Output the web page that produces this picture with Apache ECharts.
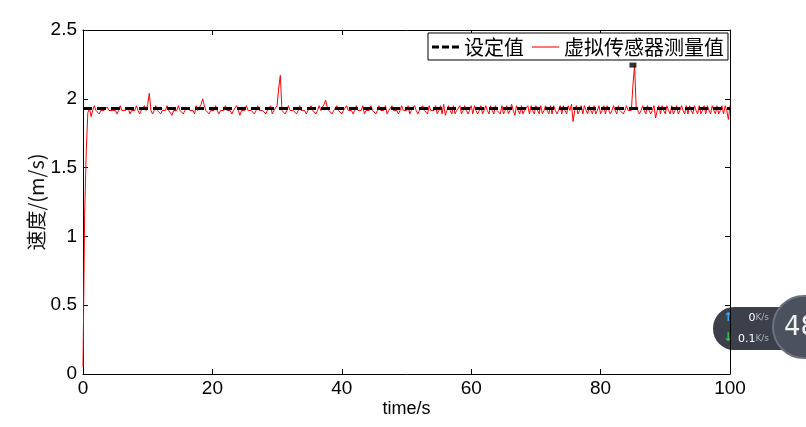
<!DOCTYPE html>
<html>
<head>
<meta charset="utf-8">
<script src="https://cdn.jsdelivr.net/npm/echarts@6/dist/echarts.min.js"></script>
<style>
html,body{margin:0;padding:0;background:#fff;}
#c{width:806px;height:427px;}
</style>
</head>
<body>
<div id="c"></div>
<script>
// ---- data ----
const xTicks = [0, 20, 40, 60, 80, 100];
const yTicks = [0, 0.5, 1, 1.5, 2, 2.5];
const seriesNames = ['设定值', '虚拟传感器测量值'];
const setTime = [0, 100];
const setValue = [1.93, 1.93];
const sampleStep = 0.25; // s
const measured = [
 0.05,1.15,1.62,1.90,1.93,1.87,1.915,1.95,1.915,1.915,1.89,1.915,1.915,1.915,1.915,1.94,1.915,1.915,1.915,1.915,
 1.915,1.89,1.915,1.95,1.915,1.915,1.915,1.915,1.93,1.89,1.915,1.915,1.915,1.95,1.915,1.89,1.915,1.915,1.95,1.915,
 1.96,2.04,1.915,1.89,1.915,1.95,1.915,1.915,1.89,1.915,1.915,1.915,1.95,1.915,1.915,1.88,1.915,1.915,1.915,1.95,
 1.915,1.915,1.89,1.915,1.915,1.94,1.915,1.915,1.915,1.89,1.95,1.915,1.915,1.96,2.00,1.95,1.915,1.915,1.89,1.915,
 1.915,1.915,1.95,1.915,1.89,1.915,1.915,1.915,1.95,1.915,1.915,1.915,1.89,1.915,1.915,1.95,1.915,1.88,1.915,1.915,
 1.915,1.95,1.915,1.915,1.915,1.915,1.89,1.915,1.95,1.915,1.915,1.915,1.915,1.89,1.915,1.915,1.95,1.89,1.915,1.915,
 1.95,2.08,2.17,1.915,1.915,1.89,1.915,1.95,1.915,1.915,1.915,1.915,1.89,1.915,1.95,1.915,1.915,1.915,1.89,1.915,
 1.915,1.95,1.915,1.915,1.89,1.915,1.95,1.915,1.915,1.96,1.99,1.94,1.915,1.915,1.89,1.915,1.915,1.95,1.915,1.915,
 1.89,1.915,1.915,1.95,1.915,1.915,1.915,1.89,1.915,1.95,1.915,1.915,1.915,1.95,1.89,1.915,1.915,1.915,1.95,1.915,
 1.915,1.89,1.915,1.95,1.915,1.915,1.915,1.95,1.89,1.915,1.915,1.95,1.915,1.915,1.915,1.89,1.915,1.95,1.915,1.915,
 1.915,1.95,1.89,1.915,1.915,1.95,1.915,1.89,1.915,1.915,1.95,1.915,1.915,1.89,1.95,1.915,1.915,1.915,1.95,1.89,
 1.915,1.95,1.89,1.96,1.88,1.915,1.95,1.915,1.89,1.95,1.89,1.915,1.915,1.95,1.89,1.915,1.95,1.915,1.89,1.915,
 1.95,1.89,1.95,1.915,1.89,1.915,1.95,1.89,1.915,1.95,1.915,1.89,1.95,1.915,1.89,1.95,1.915,1.915,1.89,1.95,
 1.89,1.915,1.95,1.89,1.915,1.96,1.915,1.88,1.95,1.915,1.89,1.95,1.89,1.915,1.915,1.95,1.89,1.95,1.915,1.89,
 1.95,1.915,1.89,1.95,1.89,1.915,1.95,1.915,1.89,1.95,1.89,1.95,1.915,1.89,1.915,1.95,1.89,1.95,1.915,1.89,
 1.95,1.915,1.96,1.835,1.915,1.95,1.89,1.915,1.95,1.89,1.95,1.915,1.89,1.95,1.915,1.89,1.95,1.89,1.915,1.95,
 1.89,1.915,1.95,1.89,1.95,1.915,1.89,1.915,1.95,1.915,1.89,1.95,1.915,1.915,1.89,1.915,1.95,1.915,1.915,1.915,
 2.10,2.24,1.94,1.915,1.89,1.915,1.95,1.915,1.89,1.95,1.915,1.89,1.915,1.95,1.86,1.915,1.95,1.89,1.95,1.915,
 1.89,1.95,1.915,1.89,1.95,1.89,1.915,1.95,1.89,1.915,1.95,1.915,1.89,1.95,1.89,1.95,1.915,1.89,1.95,1.915,
 1.89,1.95,1.89,1.915,1.95,1.89,1.95,1.915,1.89,1.95,1.915,1.89,1.95,1.89,1.915,1.95,1.89,1.95,1.915,1.85,
 1.95
];
const markerTime = [85.0];
const markerValue = [2.245];
// overlay widget texts
const upRate = '0';
const downRate = '0.1';
const rateUnit = 'K/s';
const badgeText = '48';

// ---- build ----
const measuredData = measured.map((v, i) => [i * sampleStep, v]);
const setData = setTime.map((t, i) => [t, setValue[i]]);
const markerData = markerTime.map((t, i) => [t, markerValue[i]]);

const latin = 'Liberation Sans, Arial, sans-serif';
const tickFont = { fontFamily: latin, fontSize: 19, color: '#000' };
const cjk = 'Noto Sans CJK SC';

const chart = echarts.init(document.getElementById('c'), null, { renderer: 'canvas' });
chart.setOption({
  animation: false,
  backgroundColor: '#fff',
  grid: { left: 83, right: 76, top: 30, bottom: 53, containLabel: false },
  legend: {
    data: [
      { name: seriesNames[0], icon: 'path://M0,0h7v3h-7z M10,0h7v3h-7z M20,0h7v3h-7z', itemStyle: { color: '#000' } },
      { name: seriesNames[1], icon: 'path://M0,0h25v1h-25z', itemStyle: { color: '#ff0000' } }
    ],
    left: 428, top: 33,
    padding: [4, 4, 3, 4],
    itemGap: 8,
    itemWidth: 27, itemHeight: 14,
    symbolKeepAspect: true,
    borderColor: '#000', borderWidth: 1, borderRadius: 0,
    backgroundColor: '#fff',
    textStyle: { fontFamily: cjk, fontSize: 20, color: '#000' },
    selectedMode: false
  },
  xAxis: [{
    type: 'value', min: 0, max: 100, interval: 20,
    name: 'time/s', nameLocation: 'middle', nameGap: 26, nameMoveOverlap: false,
    nameTextStyle: { fontFamily: latin, fontSize: 18, color: '#000' },
    axisLine: { show: true, onZero: false, lineStyle: { color: '#000', width: 1 } },
    axisTick: { show: true, inside: true, length: 5, lineStyle: { color: '#000' } },
    axisLabel: Object.assign({ margin: 5, formatter: v => (xTicks.includes(v) ? String(v) : '') }, tickFont),
    splitLine: { show: false }
  }, {
    type: 'value', min: 0, max: 100, interval: 20, position: 'top',
    axisLine: { show: true, onZero: false, lineStyle: { color: '#000', width: 1 } },
    axisTick: { show: true, inside: true, length: 5, lineStyle: { color: '#000' } },
    axisLabel: { show: false }, splitLine: { show: false }
  }],
  yAxis: [{
    type: 'value', min: 0, max: 2.5, interval: 0.5,
    name: '速度/(m/s)', nameLocation: 'middle', nameGap: 37, nameMoveOverlap: false,
    nameTextStyle: { fontFamily: cjk, fontSize: 20, color: '#111' },
    axisLine: { show: true, onZero: false, lineStyle: { color: '#000', width: 1 } },
    axisTick: { show: true, inside: true, length: 5, lineStyle: { color: '#000' } },
    axisLabel: Object.assign({ margin: 6, formatter: v => (yTicks.includes(v) ? String(v) : '') }, tickFont),
    splitLine: { show: false }
  }, {
    type: 'value', min: 0, max: 2.5, interval: 0.5, position: 'right',
    axisLine: { show: true, onZero: false, lineStyle: { color: '#000', width: 1 } },
    axisTick: { show: true, inside: true, length: 5, lineStyle: { color: '#000' } },
    axisLabel: { show: false }, splitLine: { show: false }
  }],
  series: [{
    name: seriesNames[1], type: 'line', data: measuredData,
    xAxisIndex: 0, yAxisIndex: 0,
    showSymbol: false, symbol: 'none', z: 2,
    lineStyle: { color: '#ff0000', width: 1 },
    itemStyle: { color: '#ff0000' }
  }, {
    name: seriesNames[0], type: 'line', data: setData,
    xAxisIndex: 0, yAxisIndex: 0,
    showSymbol: false, symbol: 'none', z: 3,
    lineStyle: { color: '#000', width: 3, type: [9, 5] },
    itemStyle: { color: '#000' }
  }, {
    name: 'marker', type: 'scatter', data: markerData,
    xAxisIndex: 0, yAxisIndex: 0,
    symbol: 'rect', symbolSize: [7, 5], z: 4, silent: true,
    itemStyle: { color: '#000' }
  }],
  graphic: [{
    type: 'group', z: -1,
    children: [
      { type: 'rect', shape: { x: 713, y: 307, width: 93, height: 43, r: 21 }, style: { fill: '#3b404b' } },
      { type: 'circle', shape: { cx: 804, cy: 327, r: 31 }, style: { fill: '#4b515d', stroke: '#6b7280', lineWidth: 2 } },
      { type: 'text', x: 728, y: 318, style: { text: '↑', fill: '#3fa9f5', font: 'bold 12px DejaVu Sans', align: 'center', verticalAlign: 'middle' } },
      { type: 'text', x: 728, y: 338, style: { text: '↓', fill: '#3ec04a', font: 'bold 12px DejaVu Sans', align: 'center', verticalAlign: 'middle' } },
      { type: 'text', x: 769, y: 318, style: { rich: { a: { fill: '#fff', font: '11px DejaVu Sans' }, b: { fill: '#aab0bb', font: '9px DejaVu Sans' } }, text: '{a|' + upRate + '}{b|' + rateUnit + '}', align: 'right', verticalAlign: 'middle' } },
      { type: 'text', x: 769, y: 339, style: { rich: { a: { fill: '#fff', font: '11px DejaVu Sans' }, b: { fill: '#aab0bb', font: '9px DejaVu Sans' } }, text: '{a|' + downRate + '}{b|' + rateUnit + '}', align: 'right', verticalAlign: 'middle' } },
      { type: 'text', x: 784, y: 328, style: { text: badgeText, fill: '#f2f2f2', font: '26px DejaVu Sans', verticalAlign: 'middle' } }
    ]
  }]
});
</script>
</body>
</html>
